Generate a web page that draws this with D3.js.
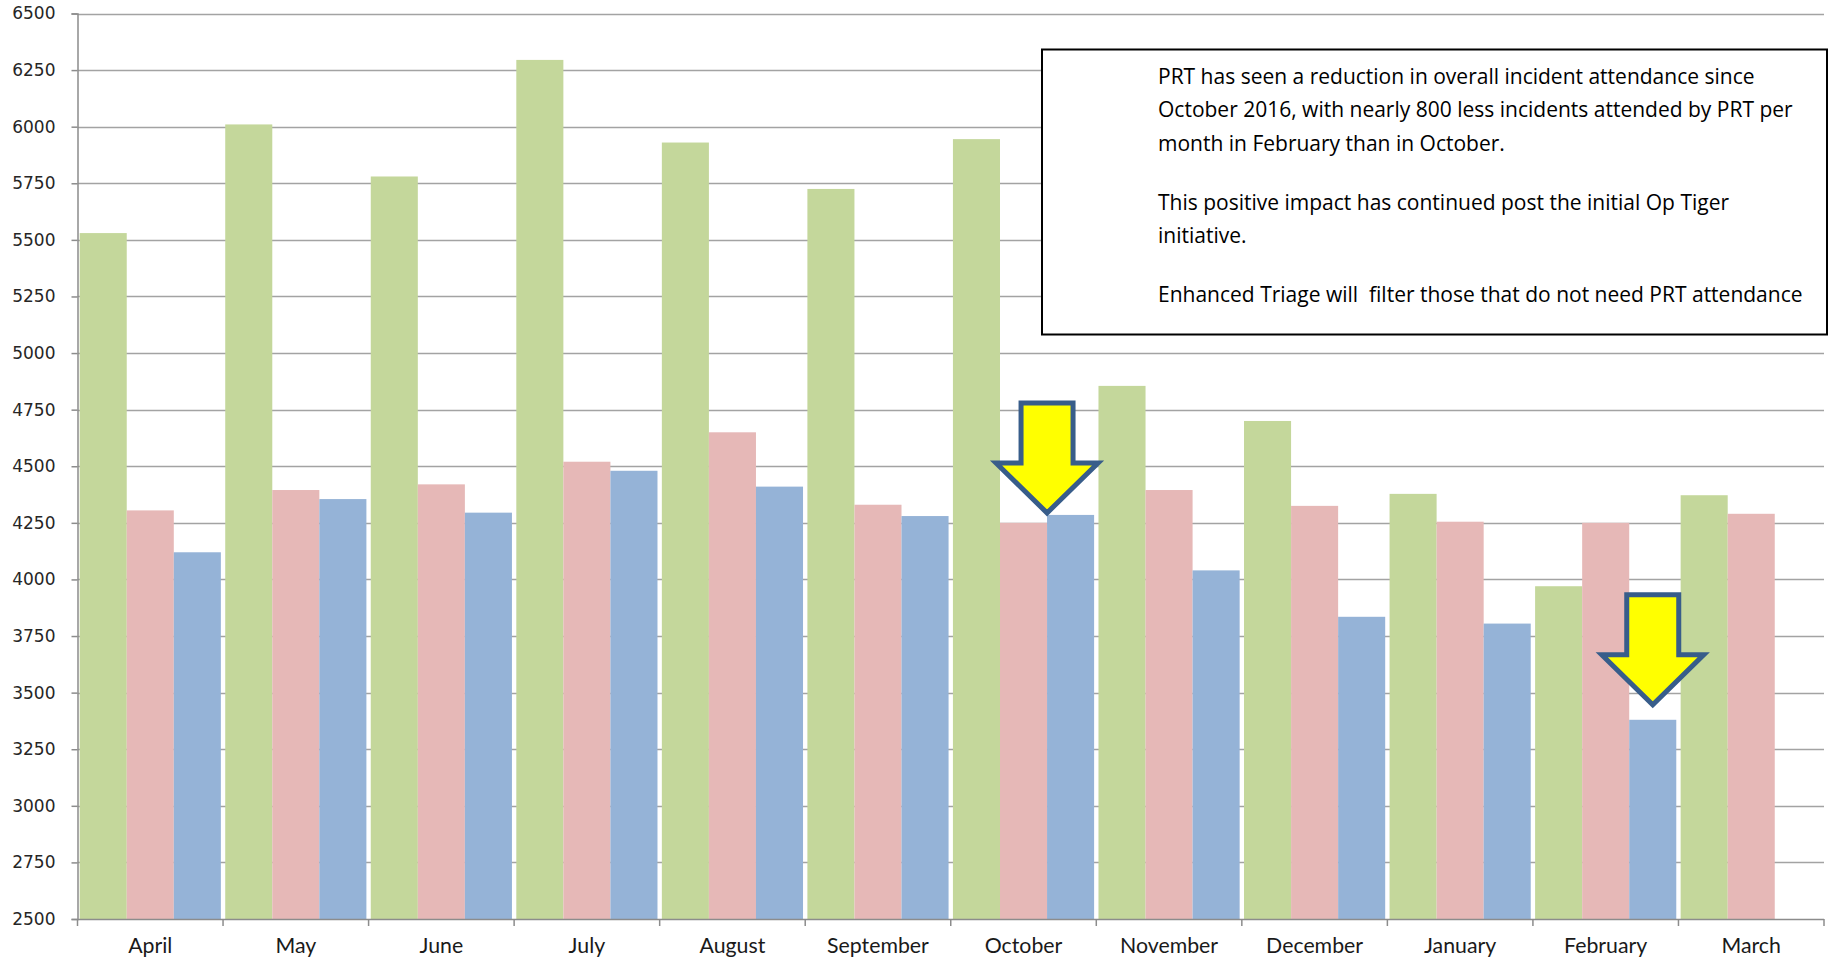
<!DOCTYPE html>
<html>
<head>
<meta charset="utf-8">
<script src="https://cdn.jsdelivr.net/npm/d3@7"></script>
<style>
  html, body { margin: 0; padding: 0; background: #ffffff; }
  svg { display: block; }
</style>
</head>
<body>
<svg id="chart" width="1839" height="961"></svg>
<script>
// Monthly PRT incident attendance, three consecutive years (April to March)
const months = ["April", "May", "June", "July", "August", "September",
                "October", "November", "December", "January", "February", "March"];
const yearOne   = [5530, 6010, 5780, 6295, 5930, 5725, 5945, 4855, 4700, 4378, 3970, 4372];
const yearTwo   = [4305, 4395, 4420, 4520, 4650, 4330, 4250, 4395, 4325, 4255, 4250, 4290];
const yearThree = [4120, 4355, 4295, 4480, 4410, 4280, 4285, 4040, 3835, 3805, 3380, null];
const yTickValues = [2500, 2750, 3000, 3250, 3500, 3750, 4000, 4250, 4500, 4750,
                     5000, 5250, 5500, 5750, 6000, 6250, 6500];
const seriesNames = ["yearOne", "yearTwo", "yearThree"];
const seriesColours = ["#c4d79b", "#e6b8b7", "#95b3d7"];
const noteParagraphs = [
  ["PRT has seen a reduction in overall incident attendance since",
   "October 2016, with nearly 800 less incidents attended by PRT per",
   "month in February than in October."],
  ["This positive impact has continued post the initial Op Tiger",
   "initiative."],
  ["Enhanced Triage will  filter those that do not need PRT attendance"]
];

const seriesValues = [yearOne, yearTwo, yearThree];
const rows = months.map((m, i) => ({
  month: m,
  values: seriesNames.map((s, k) => ({ series: s, k, value: seriesValues[k][i] }))
}));

const svg = d3.select("#chart");
const plot = { left: 77.5, right: 1824, top: 13.5, bottom: 919 };

const x = d3.scaleBand()
  .domain(months)
  .range([plot.left, plot.right])
  .paddingInner(0.03)
  .paddingOuter(0.015);

const xSeries = d3.scaleBand()
  .domain(seriesNames)
  .range([0, x.bandwidth()])
  .padding(0);

const y = d3.scaleLinear()
  .domain([2500, 6500])
  .range([plot.bottom, plot.top]);

svg.append("rect").attr("width", 1839).attr("height", 961).attr("fill", "#ffffff");

// horizontal gridlines
svg.append("g")
  .selectAll("line")
  .data(yTickValues.filter(v => v > 2500))
  .join("line")
  .attr("x1", plot.left).attr("x2", plot.right)
  .attr("y1", d => Math.round(y(d)) + 0.5).attr("y2", d => Math.round(y(d)) + 0.5)
  .attr("stroke", "#a3a3a3")
  .attr("stroke-width", 1.6);

// bars
const groups = svg.append("g")
  .selectAll("g")
  .data(rows)
  .join("g")
  .attr("transform", d => `translate(${x(d.month)},0)`);

groups.selectAll("rect")
  .data(d => d.values.filter(v => v.value != null))
  .join("rect")
  .attr("x", d => xSeries(d.series))
  .attr("width", xSeries.bandwidth())
  .attr("y", d => y(d.value))
  .attr("height", d => y(2500) - y(d.value))
  .attr("fill", d => seriesColours[d.k]);

// y axis
const yAxis = svg.append("g")
  .attr("transform", `translate(${plot.left},0)`)
  .call(d3.axisLeft(y).tickValues(yTickValues).tickSize(6).tickPadding(16).tickFormat(d3.format("d")));
yAxis.select(".domain").attr("stroke", "#8c8c8c").attr("stroke-width", 1.5);
yAxis.selectAll(".tick line").attr("stroke", "#8c8c8c").attr("stroke-width", 1.5);
yAxis.selectAll(".tick text")
  .attr("font-family", "'DejaVu Sans', Verdana, sans-serif")
  .attr("font-size", 17)
  .attr("fill", "#262626");

// x axis: baseline, category boundary ticks, month labels
const step = x.step();
const boundaries = months.map(m => x(m) - step * x.paddingInner() / 2)
  .concat([x(months[months.length - 1]) + x.bandwidth() + step * x.paddingInner() / 2]);

const xAxis = svg.append("g");
xAxis.append("line")
  .attr("x1", plot.left).attr("x2", plot.right)
  .attr("y1", plot.bottom + 0.5).attr("y2", plot.bottom + 0.5)
  .attr("stroke", "#8c8c8c").attr("stroke-width", 1.5);
xAxis.selectAll("line.tick")
  .data(boundaries)
  .join("line")
  .attr("class", "tick")
  .attr("x1", d => d).attr("x2", d => d)
  .attr("y1", plot.bottom).attr("y2", plot.bottom + 7)
  .attr("stroke", "#8c8c8c").attr("stroke-width", 1.5);
xAxis.selectAll("text")
  .data(months)
  .join("text")
  .attr("x", d => x(d) + x.bandwidth() / 2)
  .attr("y", 953)
  .attr("text-anchor", "middle")
  .attr("font-family", "Lato, 'Open Sans', sans-serif")
  .attr("font-size", 21.3)
  .attr("fill", "#1a1a1a")
  .text(d => d);

// commentary box
const note = svg.append("g");
note.append("rect")
  .attr("x", 1042).attr("y", 49.5)
  .attr("width", 785).attr("height", 285)
  .attr("fill", "#ffffff")
  .attr("stroke", "#000000")
  .attr("stroke-width", 2);

const lineGap = 33.5, paraGap = 59;
let baseline = 83.5;
const noteText = note.append("text")
  .attr("font-family", "'Open Sans', Lato, sans-serif")
  .attr("font-size", 21)
  .attr("fill", "#000000")
  .style("white-space", "pre");
noteParagraphs.forEach((para, p) => {
  para.forEach((line, j) => {
    noteText.append("tspan")
      .attr("x", 1158)
      .attr("y", baseline)
      .text(line);
    if (j < para.length - 1) baseline += lineGap;
  });
  baseline += paraGap;
});

// down arrows marking October and February attendance
function arrowPoints(cx, tipY) {
  const shaftHalf = 26, headHalf = 51, headH = 50, totalH = 110;
  return [
    [cx - shaftHalf, tipY - totalH],
    [cx + shaftHalf, tipY - totalH],
    [cx + shaftHalf, tipY - headH],
    [cx + headHalf, tipY - headH],
    [cx, tipY],
    [cx - headHalf, tipY - headH],
    [cx - shaftHalf, tipY - headH]
  ];
}
const octIdx = months.indexOf("October");
const febIdx = months.indexOf("February");
const arrows = [
  { cx: x("October") + xSeries("yearThree"), tipY: y(yearThree[octIdx]) - 2 },
  { cx: x("February") + xSeries("yearThree") + xSeries.bandwidth() / 2, tipY: y(yearThree[febIdx]) - 15 }
];
svg.append("g")
  .selectAll("path")
  .data(arrows)
  .join("path")
  .attr("d", d => d3.line()(arrowPoints(d.cx, d.tipY)) + "Z")
  .attr("fill", "#ffff00")
  .attr("stroke", "#385d8a")
  .attr("stroke-width", 5)
  .attr("stroke-linejoin", "miter");
</script>
</body>
</html>
